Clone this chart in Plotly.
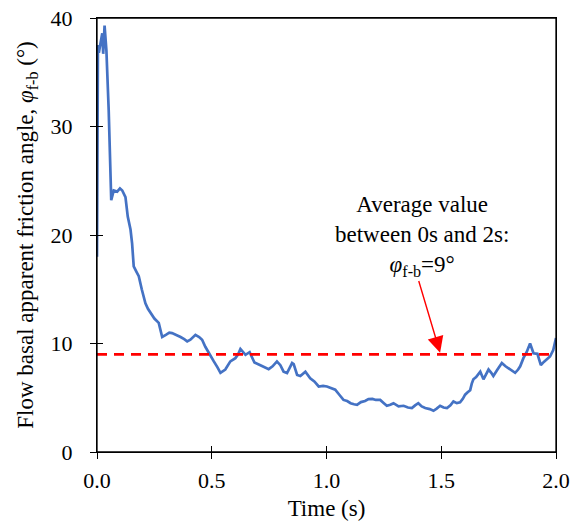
import plotly.graph_objects as go

time_s = [0, 0.004, 0.008, 0.015, 0.02, 0.023, 0.027, 0.033, 0.041, 0.051, 0.062, 0.073, 0.088, 0.10, 0.11,
          0.118, 0.124, 0.134, 0.146, 0.153, 0.16, 0.172, 0.182, 0.195, 0.211, 0.222, 0.233, 0.25, 0.269, 0.284,
          0.30, 0.315, 0.327, 0.345, 0.364, 0.38, 0.393, 0.407, 0.429, 0.445, 0.458, 0.472, 0.487, 0.509, 0.525,
          0.538, 0.559, 0.581, 0.603, 0.615, 0.625, 0.636, 0.647, 0.665, 0.686, 0.712, 0.73, 0.748, 0.765, 0.784,
          0.799, 0.813, 0.828, 0.85, 0.857, 0.872, 0.886, 0.908, 0.929, 0.947, 0.966, 0.985, 1.002, 1.02, 1.038,
          1.055, 1.074, 1.09, 1.105, 1.12, 1.133, 1.15, 1.168, 1.183, 1.2, 1.215, 1.234, 1.25, 1.263, 1.278,
          1.292, 1.314, 1.336, 1.355, 1.372, 1.386, 1.40, 1.415, 1.43, 1.45, 1.466, 1.48, 1.495, 1.51, 1.525,
          1.54, 1.553, 1.568, 1.582, 1.594, 1.604, 1.615, 1.626, 1.633, 1.640, 1.652, 1.66, 1.67, 1.684, 1.695,
          1.706, 1.718, 1.727, 1.745, 1.764, 1.78, 1.793, 1.81, 1.822, 1.835, 1.844, 1.858, 1.872, 1.887, 1.902,
          1.919, 1.934, 1.947, 1.96, 1.974, 1.988, 2.0]
friction_angle = [18, 37.5, 36.8, 37.7, 38.0, 38.6, 36.7, 39.3, 37, 31.5, 23.2, 24.1, 24.0, 24.3, 24.1,
                  23.8, 23.5, 21.7, 20.5, 19.2, 17.1, 16.6, 16.2, 15.0, 13.7, 13.2, 12.8, 12.3, 11.9, 10.6,
                  10.8, 11.0, 10.96, 10.8, 10.6, 10.4, 10.2, 10.35, 10.8, 10.6, 10.35, 9.7, 9.1, 8.35, 7.8,
                  7.3, 7.6, 8.35, 8.65, 9.0, 9.5, 9.2, 8.96, 9.2, 8.25, 8.0, 7.8, 7.64, 7.9, 8.35,
                  8.0, 7.4, 7.27, 8.2, 8.1, 7.1, 7.0, 7.4, 6.8, 6.5, 6.04, 6.1, 6.04, 5.9, 5.74,
                  5.3, 4.8, 4.7, 4.5, 4.4, 4.35, 4.6, 4.7, 4.88, 4.9, 4.8, 4.8, 4.5, 4.26, 4.35,
                  4.5, 4.2, 4.26, 4.1, 4.05, 4.3, 4.5, 4.2, 4.05, 3.95, 3.8, 4.0, 4.26, 4.1, 4.05,
                  4.3, 4.66, 4.5, 4.57, 4.9, 5.28, 5.5, 5.7, 6.3, 6.7, 6.9, 7.1, 7.4, 6.7, 7.1,
                  7.6, 7.3, 7.0, 7.6, 8.2, 7.9, 7.7, 7.5, 7.3, 7.6, 7.9, 8.65, 9.2, 10.0, 9.1,
                  9.05, 8.0, 8.3, 8.5, 8.8, 9.4, 10.5]

avg_time = [0, 2.0]
avg_value = [9, 9]

x_ticks = [0.0, 0.5, 1.0, 1.5, 2.0]
x_tick_labels = ["0.0", "0.5", "1.0", "1.5", "2.0"]
y_ticks = [0, 10, 20, 30, 40]

FONT = "Liberation Serif"

fig = go.Figure()
fig.add_trace(go.Scatter(x=time_s, y=friction_angle, mode="lines",
                         line=dict(color="#4472C4", width=2.7), showlegend=False))
fig.add_trace(go.Scatter(x=avg_time, y=avg_value, mode="lines",
                         line=dict(color="#FF0000", width=2.6, dash="10px,7px"), showlegend=False))
# invisible traces for overlay axes (inside tick marks, top/right frame)
fig.add_trace(go.Scatter(x=[0], y=[0], xaxis="x2", yaxis="y2", mode="markers",
                         marker=dict(opacity=0), showlegend=False, hoverinfo="skip"))
fig.add_trace(go.Scatter(x=[0], y=[0], xaxis="x3", yaxis="y3", mode="markers",
                         marker=dict(opacity=0), showlegend=False, hoverinfo="skip"))

axis_common = dict(showgrid=False, zeroline=False, linecolor="black", linewidth=1.3,
                   tickcolor="black", tickwidth=1.3, ticklen=6, automargin=False,
                   tickfont=dict(family=FONT, size=22, color="black"))
frame_axis = dict(showticklabels=False, showline=True, linecolor="black", linewidth=1.3,
                  ticks="", showgrid=False, zeroline=False)

fig.update_layout(
    width=577, height=524,
    margin=dict(l=97, r=21, t=18, b=72),
    plot_bgcolor="white", paper_bgcolor="white",
    font=dict(family=FONT, color="black"),
    xaxis=dict(range=[0, 2.0], tickvals=x_ticks, ticktext=x_tick_labels, ticks="outside",
               showline=True, mirror=True, ticklabelstandoff=2,
               title=dict(text="Time (s)", font=dict(family=FONT, size=23), standoff=8),
               **axis_common),
    yaxis=dict(range=[0, 40], tickvals=y_ticks, ticks="outside", showline=True, mirror=True,
               ticklabelstandoff=13,
               title=dict(text="Flow basal apparent friction angle, <i>φ</i><sub>f-b</sub> (°)",
                          font=dict(family=FONT, size=23), standoff=10),
               **axis_common),
    xaxis2=dict(range=[0, 2.0], overlaying="x", tickvals=x_ticks, ticks="inside",
                showticklabels=False, showline=False, showgrid=False, zeroline=False,
                tickcolor="black", tickwidth=1.3, ticklen=6),
    yaxis2=dict(range=[0, 40], overlaying="y", tickvals=y_ticks, ticks="inside",
                showticklabels=False, showline=False, showgrid=False, zeroline=False,
                tickcolor="black", tickwidth=1.3, ticklen=6),
    xaxis3=dict(range=[0, 2.0], overlaying="x", side="top", **frame_axis),
    yaxis3=dict(range=[0, 40], overlaying="y", side="right", **frame_axis),
    shapes=[dict(type="rect", xref="paper", yref="paper", x0=0, y0=0, x1=1, y1=1,
                 line=dict(color="black", width=1.3), fillcolor="rgba(0,0,0,0)", layer="above")],
)

fig.add_annotation(x=1.415, y=19.95, xref="x", yref="y",
                   text="Average value<br>between 0s and 2s:<br><i>φ</i><sub>f-b</sub>=9°",
                   showarrow=False, font=dict(family=FONT, size=23, color="black"),
                   align="center", xanchor="center", yanchor="middle")
fig.add_annotation(x=1.495, y=9.15, ax=1.40, ay=15.9, xref="x", yref="y", axref="x", ayref="y",
                   text="", showarrow=True, arrowhead=2, arrowsize=2.3, arrowwidth=1.4,
                   arrowcolor="#FF0000")

fig.write_html("out.html", config={"displayModeBar": False},
               post_script="document.body.style.margin='0';document.body.style.overflow='hidden';")
